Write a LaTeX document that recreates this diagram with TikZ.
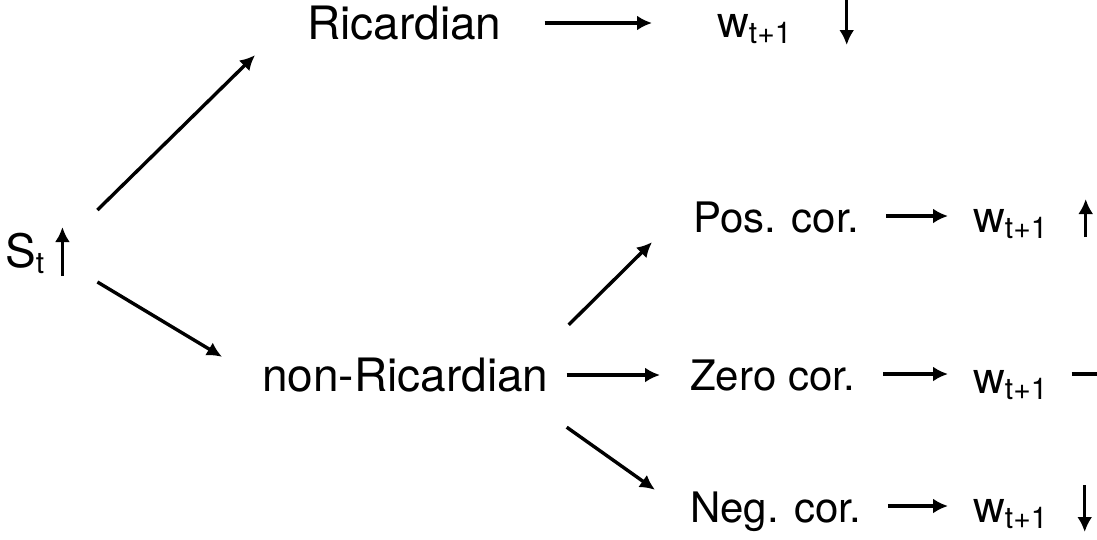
\documentclass[tikz,border=0pt]{standalone}
\usepackage{fontspec}
\setmainfont{TeX Gyre Heros}
\usetikzlibrary{arrows.meta}
\newcommand{\lowsub}[1]{{\fontsize{30}{32}\selectfont\raisebox{-6pt}{#1}}}
\tikzstyle{pixel}=[x=1pt, y=-1pt]
\tikzstyle{lbl}=[inner sep=0pt, anchor=base west, text height=32pt, text depth=0pt]
\tikzstyle{bigtext}=[font=\fontsize{46}{50}\selectfont]
\tikzstyle{cortext}=[font=\fontsize{42}{46}\selectfont]
\tikzstyle{wtext}=[font=\fontsize{44}{48}\selectfont]
\tikzstyle{conn}=[line width=3.4pt, -{Latex[length=15pt,width=15pt]}]
\tikzstyle{flat}=[line width=3.4pt]

\begin{document}
\begin{tikzpicture}[pixel]
	\useasboundingbox (0,0) rectangle (1097,539);
	\node[lbl,bigtext] (st) at (5,267) {S\lowsub{t}};
	\node[lbl,bigtext] (ric) at (307,39) {Ricardian};
	\node[lbl,bigtext] (nonric) at (262,391) {non-Ricardian};
	\node[lbl,cortext] (pos) at (693,232) {Pos. cor.};
	\node[lbl,cortext] (zero) at (690,390) {Zero cor.};
	\node[lbl,cortext] (neg) at (690,522) {Neg. cor.};
	\node[lbl,wtext] (wtop) at (717,37) {w\lowsub{t+1}};
	\node[lbl,wtext] (wpos) at (973,232) {w\lowsub{t+1}};
	\node[lbl,wtext] (wzero) at (973,393) {w\lowsub{t+1}};
	\node[lbl,wtext] (wneg) at (973,522) {w\lowsub{t+1}};
	\draw[conn] ([shift={(53,-41)}]st.east) -- ([shift={(-52,16)}]ric.south west);
	\draw[conn] ([shift={(53,31)}]st.east) -- ([shift={(-40,-2)}]nonric.north west);
	\draw[conn] ([shift={(20,-34)}]nonric.north east) -- ([shift={(-41,10)}]pos.south west);
	\draw[conn] ([shift={(18,36)}]nonric.south east) -- ([shift={(-35,0)}]neg.north west);
	\draw[conn, shorten <=43pt, shorten >=65pt] (ric.east) -- (ric.east -| wtop.west);
	\draw[conn, shorten <=18pt, shorten >=30pt] (nonric.east) -- (nonric.east -| zero.west);
	\draw[conn, shorten <=27pt, shorten >=25pt] (pos.east) -- (pos.east -| wpos.west);
	\draw[conn, shorten <=28pt, shorten >=25pt] (zero.east) -- (zero.east -| wzero.west);
	\draw[conn, shorten <=26pt, shorten >=25pt] (neg.east) -- (neg.east -| wneg.west);
	\draw[conn] ([shift={(18,25)}]st.east) -- ([shift={(18,-24)}]st.east);
	\draw[conn] ([shift={(55,-22)}]wtop.east) -- ([shift={(55,24)}]wtop.east);
	\draw[conn] ([shift={(38,21)}]wpos.east) -- ([shift={(38,-17)}]wpos.east);
	\draw[conn] ([shift={(37,-21)}]wneg.east) -- ([shift={(37,26)}]wneg.east);
	\draw[flat] ([shift={(24,-3)}]wzero.east) -- ([shift={(54,-3)}]wzero.east);
\end{tikzpicture}
\end{document}
